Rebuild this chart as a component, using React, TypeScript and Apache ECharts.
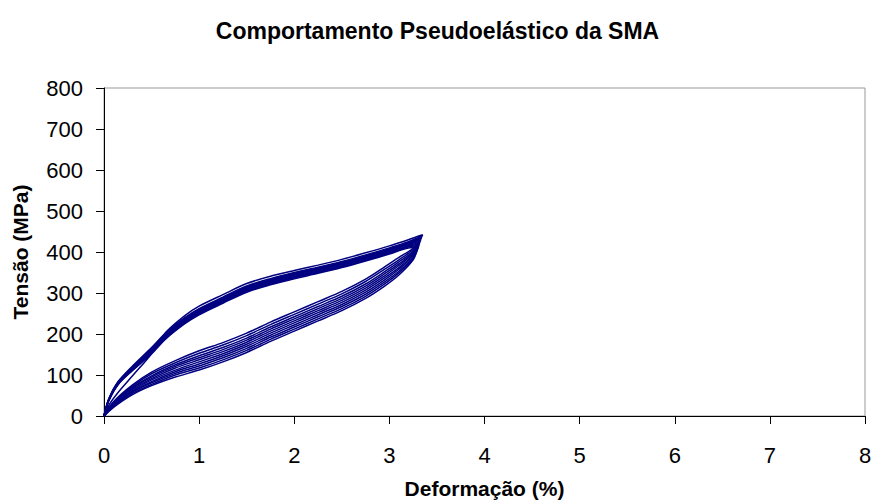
import React, { useEffect, useRef } from "react";
import * as echarts from "echarts";

const titleText = "Comportamento Pseudoelástico da SMA";
const xName = "Deformação (%)";
const yName = "Tensão (MPa)";

// strain grid (%) for the loading (upper) branch
const loadStrain = [0, 0.05, 0.15, 0.3, 0.5, 0.65, 0.85, 1.0, 1.25, 1.5, 1.75, 2.0, 2.25, 2.5, 2.75, 3.0, 3.2];
// strain grid (%) for the unloading (lower) branch
const unloadStrain = [3.25, 3.1, 2.95, 2.75, 2.5, 2.25, 2.0, 1.75, 1.5, 1.25, 1.0, 0.75, 0.5, 0.3, 0.1, 0];

// stress (MPa) per cycle, loading branch
const loadStress = [
  [0, 26, 58, 98, 152, 204, 245, 268, 296, 323, 341, 355, 368, 382, 398, 415, 430],
  [0, 42, 84, 122, 167, 203, 240, 262, 290, 317, 335, 350, 363, 377, 393, 410, 425],
  [0, 41, 84, 120, 165, 201, 238, 260, 288, 315, 333, 348, 361, 375, 391, 408, 423],
  [0, 40, 82, 119, 163, 199, 236, 258, 286, 313, 331, 346, 359, 373, 389, 406, 421],
  [0, 40, 82, 118, 162, 198, 235, 257, 285, 312, 330, 345, 358, 372, 388, 405, 420],
  [0, 39, 81, 117, 160, 196, 233, 255, 283, 310, 328, 343, 356, 370, 386, 403, 418],
  [0, 39, 80, 115, 158, 194, 231, 253, 281, 308, 326, 341, 354, 368, 384, 401, 416],
  [0, 38, 79, 114, 156, 192, 229, 251, 279, 306, 324, 339, 352, 366, 382, 399, 414],
  [0, 38, 78, 112, 154, 190, 227, 249, 277, 304, 322, 337, 350, 364, 380, 397, 412],
  [0, 37, 77, 111, 152, 188, 225, 247, 275, 302, 320, 335, 348, 362, 378, 395, 410],
];

// stress (MPa) per cycle, unloading branch
const unloadStress = [
  [409, 387, 364, 334, 304, 279, 254, 229, 202, 179, 159, 135, 107, 76, 35, 0],
  [406, 381, 358, 328, 298, 273, 248, 223, 196, 173, 153, 130, 103, 73, 33, 0],
  [402, 376, 352, 322, 292, 267, 242, 217, 190, 167, 147, 125, 98, 70, 32, 0],
  [399, 371, 347, 317, 287, 262, 237, 212, 185, 162, 142, 121, 95, 68, 30, 0],
  [396, 367, 342, 312, 282, 257, 232, 207, 180, 157, 137, 117, 91, 65, 29, 0],
  [393, 362, 337, 307, 277, 252, 227, 202, 175, 152, 132, 112, 88, 62, 27, 0],
  [390, 358, 332, 302, 272, 247, 222, 197, 170, 147, 127, 108, 84, 60, 26, 0],
  [387, 353, 327, 297, 267, 242, 217, 192, 165, 142, 122, 104, 81, 58, 24, 0],
  [384, 349, 322, 292, 262, 237, 212, 187, 160, 137, 117, 100, 77, 55, 23, 0],
  [381, 344, 317, 287, 257, 232, 207, 182, 155, 132, 112, 95, 74, 52, 21, 0],
];

// peak point of each cycle
const peakStrain = [3.35, 3.34, 3.34, 3.33, 3.33, 3.32, 3.32, 3.31, 3.31, 3.3];
const peakStress = [442, 439, 436, 433, 430, 427, 423, 419, 415, 411];

const FONT = "'Liberation Sans', Arial, sans-serif";

export default function App() {
  const ref = useRef<HTMLDivElement>(null);
  useEffect(() => {
    if (!ref.current) return;
    const chart = echarts.init(ref.current, null, { renderer: "svg" });
    const series = loadStress.map((ls, k) => {
      const pts: number[][] = [];
      loadStrain.forEach((x, i) => pts.push([x, ls[i]]));
      pts.push([peakStrain[k], peakStress[k]]);
      unloadStrain.forEach((x, i) => pts.push([x, unloadStress[k][i]]));
      return {
        type: "line",
        data: pts,
        showSymbol: false,
        smooth: 0.3,
        lineStyle: { color: "#000080", width: 1.5 },
        silent: true,
      };
    });
    chart.setOption({
      animation: false,
      backgroundColor: "#ffffff",
      title: {
        text: titleText,
        left: "center",
        top: 14,
        textStyle: { fontFamily: FONT, fontSize: 23, fontWeight: "bold", color: "#000" },
      },
      grid: {
        left: 104,
        right: 10,
        top: 88,
        bottom: 86,
        containLabel: false,
        outerBoundsMode: "none",
        show: true,
        borderColor: "#999999",
        borderWidth: 1,
      },
      xAxis: {
        type: "value",
        min: 0,
        max: 8,
        interval: 1,
        name: xName,
        nameLocation: "middle",
        nameGap: 62,
        nameTextStyle: { fontFamily: FONT, fontSize: 21, fontWeight: "bold", color: "#000" },
        axisLine: { lineStyle: { color: "#000", width: 1 } },
        axisTick: { show: true, inside: false, length: 8, lineStyle: { color: "#000" } },
        axisLabel: { fontFamily: FONT, fontSize: 22, color: "#000", margin: 28 },
        splitLine: { show: false },
      },
      yAxis: {
        type: "value",
        min: 0,
        max: 800,
        interval: 100,
        name: yName,
        nameLocation: "middle",
        nameRotate: 90,
        nameGap: 73,
        nameTextStyle: { fontFamily: FONT, fontSize: 21, fontWeight: "bold", color: "#000" },
        axisLine: { show: true, lineStyle: { color: "#000", width: 1 } },
        axisTick: { show: true, inside: false, length: 8, lineStyle: { color: "#000" } },
        axisLabel: { fontFamily: FONT, fontSize: 22, color: "#000", margin: 21 },
        splitLine: { show: false },
      },
      series,
    });
    return () => chart.dispose();
  }, []);
  return <div ref={ref} style={{ width: 875, height: 502, position: "absolute", left: 0, top: 0 }} />;
}
